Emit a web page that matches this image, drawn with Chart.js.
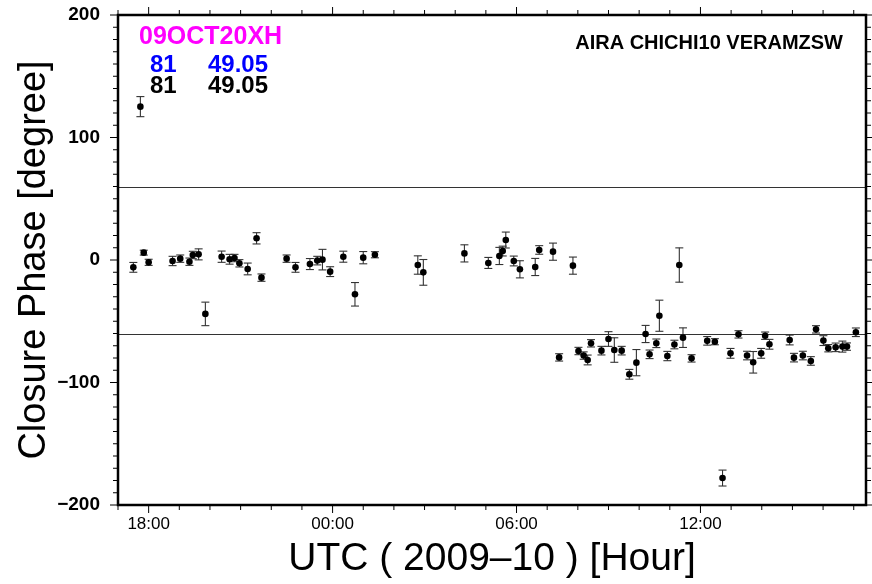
<!DOCTYPE html>
<html lang="en">
<head>
<meta charset="UTF-8">
<title>Closure Phase 09OCT20XH</title>
<style>
  html, body { margin: 0; padding: 0; background: #fff; }
  .wrap { width: 872px; height: 584px; position: relative; }
</style>
</head>
<body>
<div class="wrap"><canvas id="cp-chart"></canvas></div>
<script src="https://cdn.jsdelivr.net/npm/chart.js"></script>
<script>
// scan times in hours from 00:00 UTC (negative = previous evening)
const hours = [
  -6.50, -6.27, -6.16, -6.00, -5.22, -4.97, -4.67, -4.56, -4.37, -4.15,
  -3.62, -3.36, -3.20, -3.04, -2.77, -2.48, -2.32, -1.50, -1.21, -0.74,
  -0.50, -0.33, -0.08, 0.35, 0.73, 1.00, 1.38, 2.78, 2.96, 4.30,
  5.08, 5.44, 5.55, 5.65, 5.91, 6.11, 6.61, 6.74, 7.19, 7.39,
  7.84, 8.02, 8.19, 8.32, 8.43, 8.77, 9.00, 9.19, 9.43, 9.68,
  9.91, 10.21, 10.34, 10.56, 10.66, 10.92, 11.15, 11.31, 11.43, 11.71,
  12.22, 12.47, 12.72, 12.98, 13.24, 13.52, 13.72, 13.98, 14.11, 14.25,
  14.91, 15.05, 15.34, 15.60, 15.77, 16.01, 16.17, 16.41, 16.63, 16.78,
  17.07
];
// closure phase, degrees
const phases = [
  -6.0, 125.2, 6.0, -1.9, -0.8, 1.1, -1.4, 4.1, 4.6, -44,
  2.7, 0.6, 1.6, -2.7, -7.3, 17.7, -14.4, 1.1, -6.0, -3.3,
  -0.5, 0.3, -9.5, 2.7, -28, 1.9, 4.3, -4.1, -10.1, 5.4,
  -2.4, 3.3, 7.3, 16.3, -0.8, -7.6, -5.7, 8.2, 6.8, -79.5,
  -4.6, -74.3, -78, -81.6, -68, -74, -64.5, -73.5, -74, -93.3,
  -83.8, -60.4, -77, -68, -45.5, -78.4, -69, -4.1, -63.4, -80.3,
  -66, -66.7, -178, -76.2, -60.7, -78, -83.5, -76.2, -61.8, -68.8,
  -65.3, -79.7, -78, -82.4, -56.6, -65.8, -72, -71.3, -70.7, -70.7,
  -59
];
// 1-sigma errors, degrees
const errors = [
  4, 8.2, 2, 2.5, 3.8, 3, 3, 3, 4.5, 9.6,
  4.6, 4, 3, 3, 4.8, 4.6, 3, 3, 4, 4.5,
  3.5, 8.4, 4, 4.5, 9.6, 5, 2.5, 7.5, 10.5, 7,
  4.5, 7, 4, 6.5, 4, 7, 7, 3.5, 7, 3,
  7, 3, 3, 4, 3, 3.5, 6, 10, 3.5, 4,
  10.7, 7, 3.5, 3.5, 12.7, 3.8, 3.5, 14, 8, 3,
  3.5, 2.5, 6.5, 4, 3, 3.5, 8.8, 4, 3, 4,
  4, 3.5, 3.5, 3.5, 3, 4, 3, 3.5, 4.5, 3,
  3.5
];

const tickHours = [-6, 0, 6, 12];
const tickLabels = ['18:00', '00:00', '06:00', '12:00'];
const limitLines = [60, -60];

const FONT = "'Liberation Sans', Arial, Helvetica, sans-serif";

const line = (ctx, x1, y1, x2, y2) => {
  ctx.beginPath();
  ctx.moveTo(x1, y1);
  ctx.lineTo(x2, y2);
  ctx.stroke();
};

const phasePlot = {
  id: 'phasePlot',
  beforeDatasetsDraw(chart) {
    const { ctx, chartArea: a, scales: { x, y } } = chart;
    ctx.save();
    // +-60 degree guide lines
    ctx.strokeStyle = '#333';
    ctx.lineWidth = 1;
    limitLines.forEach(v => {
      const py = Math.round(y.getPixelForValue(v)) + 0.5;
      line(ctx, a.left, py, a.right, py);
    });
    // error bars with caps
    ctx.strokeStyle = '#333';
    ctx.lineWidth = 1.1;
    hours.forEach((h, i) => {
      const px = x.getPixelForValue(h);
      const top = y.getPixelForValue(phases[i] + errors[i]);
      const bot = y.getPixelForValue(phases[i] - errors[i]);
      line(ctx, px, top, px, bot);
      line(ctx, px - 4, top, px + 4, top);
      line(ctx, px - 4, bot, px + 4, bot);
    });
    ctx.restore();
  },
  afterDraw(chart) {
    const { ctx, chartArea: a, scales: { x, y } } = chart;
    ctx.save();
    ctx.strokeStyle = '#000';
    ctx.lineWidth = 1;
    // outward ticks on all four sides
    for (let h = Math.ceil(x.min); h <= x.max; h++) {
      const px = x.getPixelForValue(h);
      const len = h % 6 === 0 ? 8 : 5;
      line(ctx, px, a.bottom, px, a.bottom + len);
      line(ctx, px, a.top, px, a.top - len);
    }
    for (let v = y.min; v <= y.max; v += 10) {
      const py = y.getPixelForValue(v);
      const len = v % 100 === 0 ? 8 : 5;
      line(ctx, a.left, py, a.left - len, py);
      line(ctx, a.right, py, a.right + len, py);
    }
    // frame
    ctx.lineWidth = 2.5;
    ctx.strokeRect(a.left, a.top, a.right - a.left, a.bottom - a.top);

    // header texts
    ctx.textBaseline = 'middle';
    ctx.textAlign = 'left';
    ctx.fillStyle = '#ff00ff';
    ctx.font = `bold 25px ${FONT}`;
    ctx.fillText('09OCT20XH', a.left + 21, a.top + 22);
    ctx.font = `bold 24px ${FONT}`;
    ctx.fillStyle = '#0000ff';
    ctx.fillText('81', a.left + 32, a.top + 50);
    ctx.fillText('49.05', a.left + 90, a.top + 50);
    ctx.fillStyle = '#000';
    ctx.fillText('81', a.left + 32, a.top + 71);
    ctx.fillText('49.05', a.left + 90, a.top + 71);
    ctx.textAlign = 'right';
    ctx.font = `bold 20px ${FONT}`;
    ctx.fillText('AIRA CHICHI10 VERAMZSW', a.right - 23, a.top + 28);
    ctx.restore();
  }
};

new Chart(document.getElementById('cp-chart'), {
  type: 'scatter',
  data: {
    datasets: [{
      data: hours.map((h, i) => ({ x: h, y: phases[i] })),
      backgroundColor: '#000',
      borderWidth: 0,
      pointRadius: 3.3,
    }],
  },
  options: {
    responsive: true,
    maintainAspectRatio: false,
    animation: false,
    layout: { padding: { top: 15, right: 6, left: 0, bottom: 0 } },
    plugins: { legend: { display: false }, tooltip: { enabled: false } },
    scales: {
      x: {
        type: 'linear',
        min: -7,
        max: 17.4,
        afterFit: s => { s.height = 79; s.paddingLeft = 0; s.paddingRight = 0; },
        afterBuildTicks: s => { s.ticks = tickHours.map(v => ({ value: v })); },
        grid: { display: false, drawTicks: false },
        border: { display: false },
        ticks: {
          autoSkip: false,
          maxRotation: 0,
          padding: 9,
          color: '#000',
          font: { family: FONT, size: 17 },
          callback: v => tickLabels[tickHours.indexOf(v)],
        },
        title: {
          display: true,
          text: 'UTC ( 2009\u201310 ) [Hour]',
          color: '#000',
          font: { family: FONT, size: 39, lineHeight: 1 },
          padding: { top: 0, bottom: 5 },
        },
      },
      y: {
        min: -200,
        max: 200,
        afterFit: s => { s.width = 118; s.paddingTop = 0; s.paddingBottom = 0; },
        grid: { display: false, drawTicks: false },
        border: { display: false },
        ticks: {
          stepSize: 100,
          padding: 18,
          color: '#000',
          font: { family: FONT, size: 19, weight: 'bold' },
          callback: v => (v < 0 ? '\u2212' + Math.abs(v) : String(v)),
        },
        title: {
          display: true,
          text: 'Closure Phase [degree]',
          color: '#000',
          font: { family: FONT, size: 38, lineHeight: 1 },
          padding: { top: 16, bottom: 0 },
        },
      },
    },
  },
  plugins: [phasePlot],
});
</script>
</body>
</html>
